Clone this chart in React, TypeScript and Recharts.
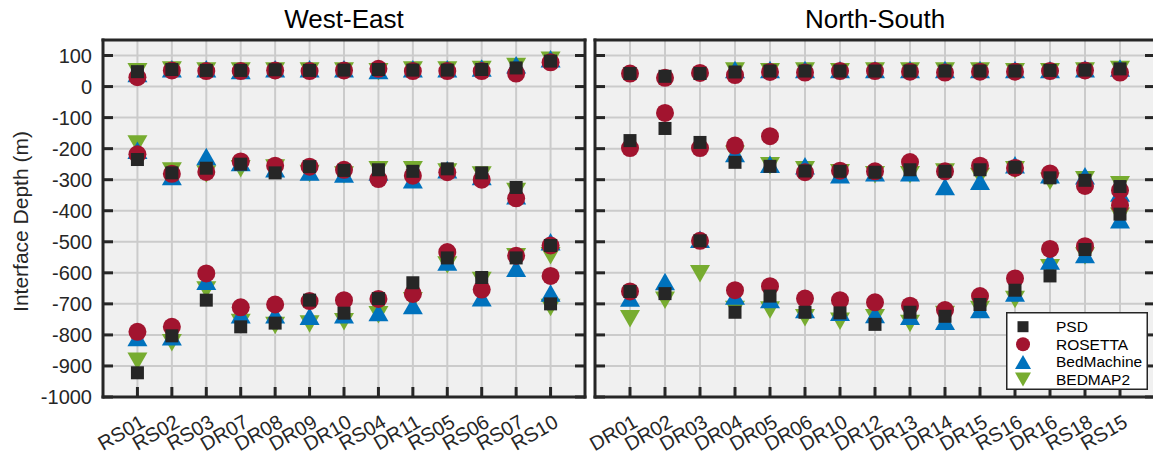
import React from 'react';
import { ScatterChart, Scatter, XAxis, YAxis, CartesianGrid, Legend } from 'recharts';

// stations along each transect
const WE_STATIONS = ['RS01', 'RS02', 'RS03', 'DR07', 'DR08', 'DR09', 'DR10', 'RS04', 'DR11', 'RS05', 'RS06', 'RS07', 'RS10'];
const NS_STATIONS = ['DR01', 'DR02', 'DR03', 'DR04', 'DR05', 'DR06', 'DR10', 'DR12', 'DR13', 'DR14', 'DR15', 'RS16', 'DR16', 'RS18', 'RS15'];

// interface depths per station: [surface, first interface, second interface] (m), null = none
const WE_PSD = [[48, -235, -922], [55, -278, -803], [52, -263, -688], [52, -250, -774], [54, -278, -762], [52, -258, -688], [53, -270, -730], [55, -268, -683], [53, -273, -632], [53, -265, -552], [55, -278, -615], [60, -325, -552], [82, -512, -700]];
const WE_ROSETTA = [[30, -218, -790], [52, -281, -774], [50, -275, -602], [50, -241, -711], [52, -255, -702], [50, -258, -691], [52, -268, -688], [57, -298, -684], [50, -287, -668], [50, -276, -533], [50, -300, -654], [42, -360, -545], [78, -512, -610]];
const WE_BEDMACHINE = [[42, -205, -808], [57, -290, -806], [57, -225, -627], [52, -245, -735], [57, -265, -735], [57, -275, -740], [57, -282, -735], [52, -275, -728], [57, -300, -705], [57, -268, -565], [60, -290, -680], [70, -352, -585], [90, -500, -665]];
const WE_BEDMAP2 = [[48, -185, -885], [53, -272, -825], [50, -282, -655], [50, -265, -760], [50, -262, -770], [50, -280, -765], [50, -285, -758], [48, -268, -735], [53, -268, -690], [53, -275, -575], [55, -285, -625], [65, -338, -548], [85, -545, -712]];

const NS_PSD = [[42, -174, -660], [33, -135, -667], [42, -180, -497], [47, -244, -727], [50, -257, -675], [50, -272, -727], [50, -273, -729], [50, -276, -766], [50, -268, -727], [50, -273, -740], [50, -268, -702], [50, -260, -656], [52, -294, -610], [53, -302, -525], [57, -322, -411]];
const NS_ROSETTA = [[42, -198, -660], [28, -85, null], [44, -198, -497], [37, -190, -656], [47, -160, -643], [45, -276, -683], [50, -271, -688], [50, -273, -695], [48, -243, -706], [45, -273, -720], [48, -255, -675], [48, -262, -618], [50, -280, -523], [52, -320, -514], [45, -334, -383]];
const NS_BEDMACHINE = [[null, null, -681], [null, null, -628], [null, null, -492], [55, -216, -675], [55, -250, -686], [55, -255, -718], [55, -284, -727], [55, -278, -734], [55, -278, -740], [55, -322, -756], [55, -305, -718], [55, -252, -665], [55, -284, -562], [57, -287, -541], [60, -343, -429]];
const NS_BEDMAP2 = [[null, null, -748], [null, null, -688], [null, null, -603], [50, -218, -718], [48, -255, -720], [50, -268, -745], [48, -278, -756], [50, -284, -745], [50, -284, -763], [50, -275, -734], [50, -290, -718], [48, -268, -686], [48, -305, -584], [50, -300, -546], [55, -316, -418]];

const Y_TICKS = [-1000, -900, -800, -700, -600, -500, -400, -300, -200, -100, 0, 100];
const Y_DOMAIN = [-1000, 150];

const INK = '#262626';
const FONT = '"Liberation Sans", Arial, sans-serif';

type Rows = (number | null)[][];

function toPoints(rows: Rows) {
  const pts: { x: number; y: number }[] = [];
  rows.forEach((row, i) => row.forEach((v) => { if (v !== null) pts.push({ x: i + 1, y: v }); }));
  return pts;
}

const Square = ({ cx, cy, s = 13 }: any) => <rect x={cx - s / 2} y={cy - s / 2} width={s} height={s} fill={INK} />;
const Dot = ({ cx, cy, r = 9 }: any) => <circle cx={cx} cy={cy} r={r} fill="#A2142F" />;
const TriUp = ({ cx, cy, w = 20, h = 17.5 }: any) => (
  <polygon points={`${cx},${cy - h / 2} ${cx + w / 2},${cy + h / 2} ${cx - w / 2},${cy + h / 2}`} fill="#0072BD" />
);
const TriDown = ({ cx, cy, w = 20, h = 17.5 }: any) => (
  <polygon points={`${cx - w / 2},${cy - h / 2} ${cx + w / 2},${cy - h / 2} ${cx},${cy + h / 2}`} fill="#77AC30" />
);

const LEGEND = [
  { name: 'PSD', mark: (cx: number, cy: number) => <Square cx={cx} cy={cy} s={11} /> },
  { name: 'ROSETTA', mark: (cx: number, cy: number) => <Dot cx={cx} cy={cy} r={7} /> },
  { name: 'BedMachine', mark: (cx: number, cy: number) => <TriUp cx={cx} cy={cy} w={16} h={14} /> },
  { name: 'BEDMAP2', mark: (cx: number, cy: number) => <TriDown cx={cx} cy={cy} w={16} h={14} /> },
];

const frame = { stroke: INK, strokeWidth: 3, strokeLinecap: 'square' as const };

const BottomTick = ({ x, y, payload, stations }: any) => (
  <g>
    <line x1={x} x2={x} y1={y} y2={y - 10} stroke={INK} strokeWidth={3} />
    <text x={x + 9} y={y + 29} transform={`rotate(-30, ${x + 9}, ${y + 29})`} textAnchor="end" fontSize={20} fill={INK}>
      {stations[payload.value - 1]}
    </text>
  </g>
);
const TopTick = ({ x, y }: any) => <line x1={x} x2={x} y1={y} y2={y + 10} stroke={INK} strokeWidth={3} />;
const LeftTick = ({ x, y, payload, showLabel }: any) => (
  <g>
    <line x1={x} x2={x + 10} y1={y} y2={y} stroke={INK} strokeWidth={3} />
    {showLabel && (
      <text x={x - 11} y={y} dy="0.36em" textAnchor="end" fontSize={20} fill={INK}>{payload.value}</text>
    )}
  </g>
);
const RightTick = ({ x, y }: any) => <line x1={x} x2={x - 10} y1={y} y2={y} stroke={INK} strokeWidth={3} />;

const YLabel = ({ viewBox }: any) => {
  const cy = viewBox ? viewBox.y + viewBox.height / 2 : 218;
  return (
    <text x={20} y={cy + 3} dy="0.36em" transform={`rotate(-90, 20, ${cy + 3})`} textAnchor="middle" fontSize={21} fill={INK}>
      Interface Depth (m)
    </text>
  );
};

const TitleLabel = ({ viewBox, title }: any) => {
  const cx = viewBox ? viewBox.x + viewBox.width / 2 : 300;
  const y = viewBox ? viewBox.y : 40;
  return (
    <text x={cx} y={y - 11} textAnchor="middle" fontSize={26} fill="#000">{title}</text>
  );
};

const LegendBox = () => (
  <svg width={142} height={78} style={{ display: 'block' }}>
    <rect x={0.75} y={0.75} width={140.5} height={76.5} fill="#ffffff" stroke={INK} strokeWidth={1.5} />
    {LEGEND.map((d, i) => (
      <g key={d.name}>
        {d.mark(17, 14.7 + i * 17.6)}
        <text x={50} y={14.7 + i * 17.6} dy="0.36em" fontSize={15.5} fill="#000">{d.name}</text>
      </g>
    ))}
  </svg>
);

interface PanelProps {
  title: string;
  stations: string[];
  psd: Rows;
  rosetta: Rows;
  bedmachine: Rows;
  bedmap2: Rows;
  left: number;
  width: number;
  yAxisWidth: number;
  showYLabels: boolean;
  legendLeft?: number;
}

function Panel({ title, stations, psd, rosetta, bedmachine, bedmap2, left, width, yAxisWidth, showYLabels, legendLeft }: PanelProps) {
  const n = stations.length;
  const xTicks = stations.map((_, i) => i + 1);
  // drawn bottom to top: BEDMAP2, BedMachine, ROSETTA, PSD
  const series = [
    { name: 'BEDMAP2', data: toPoints(bedmap2), shape: (p: any) => <TriDown cx={p.cx} cy={p.cy} /> },
    { name: 'BedMachine', data: toPoints(bedmachine), shape: (p: any) => <TriUp cx={p.cx} cy={p.cy} /> },
    { name: 'ROSETTA', data: toPoints(rosetta), shape: (p: any) => <Dot cx={p.cx} cy={p.cy} /> },
    { name: 'PSD', data: toPoints(psd), shape: (p: any) => <Square cx={p.cx} cy={p.cy} /> },
  ];
  return (
    <div style={{ position: 'absolute', left, top: 0 }}>
      <ScatterChart width={width} height={457} margin={{ top: 39, right: 4, bottom: 0, left: 0 }}>
        <CartesianGrid fill="#f0f0f0" stroke="#cbcbcb" strokeWidth={2} />
        <XAxis dataKey="x" type="number" domain={[0, n + 1]} ticks={xTicks} allowDataOverflow interval={0}
          height={60} tickSize={0} tickMargin={0} axisLine={frame} tick={<BottomTick stations={stations} />} />
        <XAxis xAxisId="top" orientation="top" type="number" domain={[0, n + 1]} ticks={xTicks} allowDataOverflow interval={0}
          height={1} tickSize={0} tickMargin={0} axisLine={frame} tick={<TopTick />}
          label={<TitleLabel title={title} />} />
        <YAxis dataKey="y" type="number" domain={Y_DOMAIN} ticks={Y_TICKS} allowDataOverflow interval={0}
          width={yAxisWidth} tickSize={0} tickMargin={0} axisLine={frame} tick={<LeftTick showLabel={showYLabels} />}
          label={showYLabels ? <YLabel /> : undefined} />
        <YAxis yAxisId="right" orientation="right" type="number" domain={Y_DOMAIN} ticks={Y_TICKS} allowDataOverflow interval={0}
          width={1} tickSize={0} tickMargin={0} axisLine={frame} tick={<RightTick />} />
        {series.map((s) => (
          <Scatter key={s.name} name={s.name} data={s.data} shape={s.shape} isAnimationActive={false} />
        ))}
        {legendLeft !== undefined && (
          <Legend layout="vertical" align="center" verticalAlign="middle" content={<LegendBox />}
            wrapperStyle={{ left: legendLeft, top: 312, width: 142, height: 78 }} />
        )}
      </ScatterChart>
    </div>
  );
}

export default function App() {
  return (
    <div style={{ position: 'absolute', left: 0, top: 0, width: 1153, height: 457, overflow: 'hidden', background: '#fff', fontFamily: FONT }}>
      <Panel title="West-East" stations={WE_STATIONS} psd={WE_PSD} rosetta={WE_ROSETTA} bedmachine={WE_BEDMACHINE} bedmap2={WE_BEDMAP2}
        left={0} width={590} yAxisWidth={103} showYLabels />
      <Panel title="North-South" stations={NS_STATIONS} psd={NS_PSD} rosetta={NS_ROSETTA} bedmachine={NS_BEDMACHINE} bedmap2={NS_BEDMAP2}
        left={540} width={620} yAxisWidth={55} showYLabels={false} legendLeft={466} />
    </div>
  );
}
